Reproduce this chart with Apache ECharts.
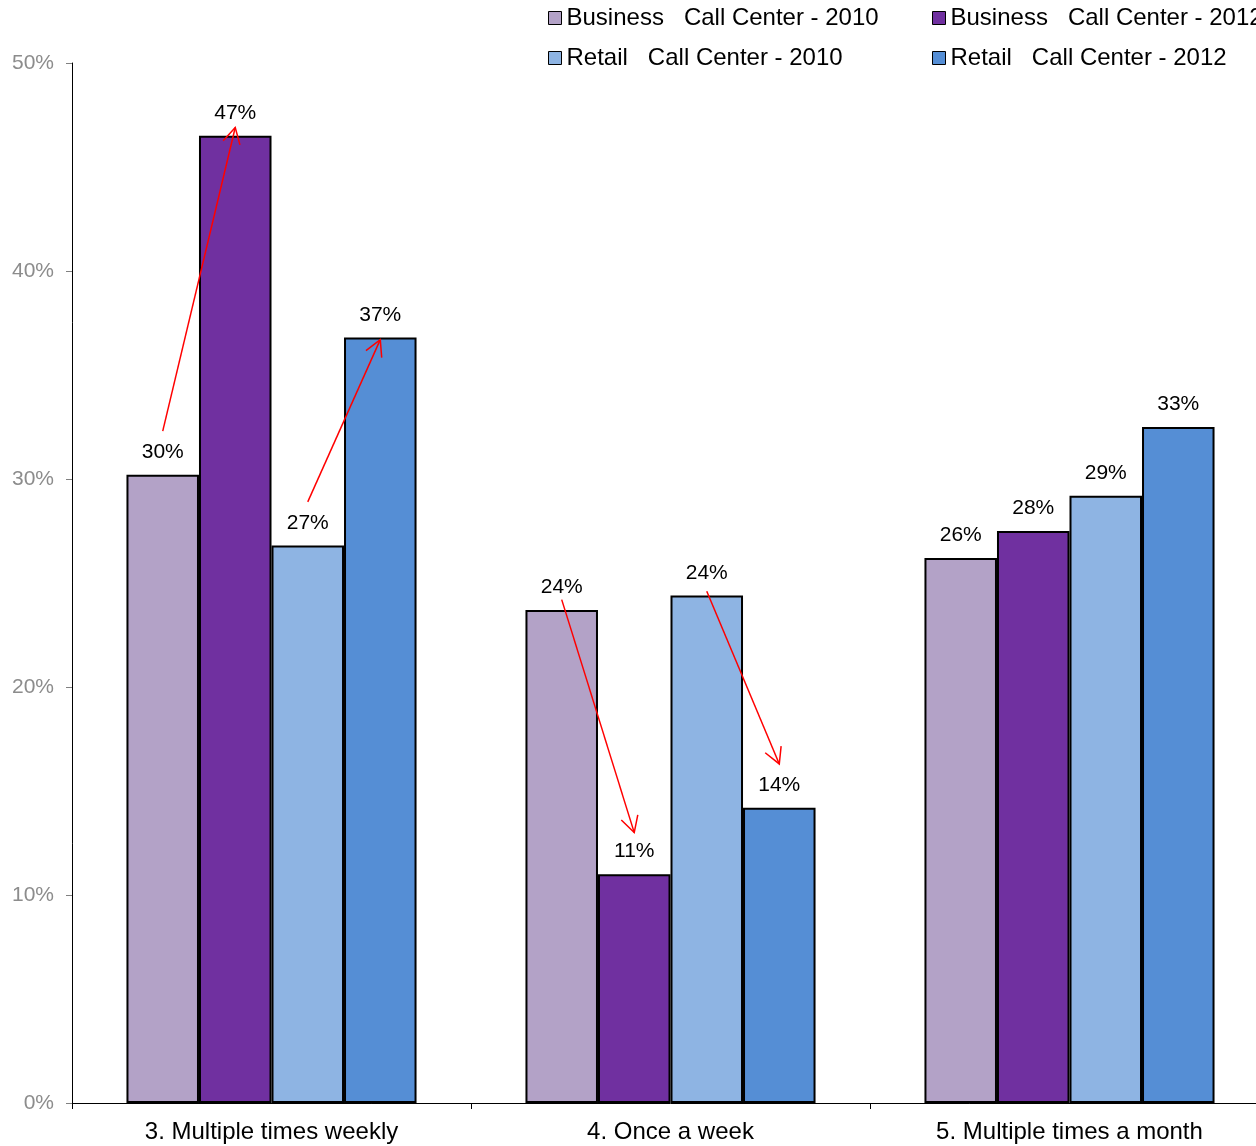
<!DOCTYPE html>
<html>
<head>
<meta charset="utf-8">
<script src="https://cdn.jsdelivr.net/npm/echarts@6/dist/echarts.min.js"></script>
<style>
  html, body { margin: 0; padding: 0; background: #fff; overflow: hidden; }
  /* a little wider than the window: the plot runs past the right edge, as in the reference */
  #chart { width: 1269px; height: 1146px; }
</style>
</head>
<body>
<div id="chart"></div>
<script>
  // categories and values (percent)
  var categories = ['3. Multiple times weekly', '4. Once a week', '5. Multiple times a month'];
  var seriesNames = [
    'Business   Call Center - 2010',
    'Business   Call Center - 2012',
    'Retail   Call Center - 2010',
    'Retail   Call Center - 2012'
  ];
  var business2010 = [30.2, 23.7, 26.2];
  var business2012 = [46.5, 11.0, 27.5];
  var retail2010 = [26.8, 24.4, 29.2];
  var retail2012 = [36.8, 14.2, 32.5];
  var yTicks = [0, 10, 20, 30, 40, 50];
  // arrows: [category, from bar, from value, to bar, to value]
  var arrows = [
    [0, 0, 32.3, 1, 46.9],
    [0, 2, 28.9, 3, 36.7],
    [1, 0, 24.2, 1, 13.0],
    [1, 2, 24.6, 3, 16.3]
  ];

  var colors = ['#B3A2C7', '#7030A0', '#8EB4E3', '#558ED5'];
  var values = [business2010, business2012, retail2010, retail2012];
  var catGap = 0.273;

  var chart = echarts.init(document.getElementById('chart'));

  var series = values.map(function (v, i) {
    return {
      name: seriesNames[i],
      type: 'bar',
      data: v,
      barGap: 0,
      barCategoryGap: (catGap * 100) + '%',
      itemStyle: { color: colors[i], borderColor: '#000', borderWidth: 2 },
      label: {
        show: true,
        position: 'top',
        distance: 12,
        fontSize: 21,
        color: '#000',
        fontFamily: 'Liberation Sans',
        formatter: function (p) { return Math.round(p.value) + '%'; }
      }
    };
  });

  // red arrows between bars
  series.push({
    type: 'custom',
    coordinateSystem: 'cartesian2d',
    data: arrows,
    encode: { x: 0, y: 2 },
    z: 10,
    clip: false,
    silent: true,
    renderItem: function (params, api) {
      var cat = api.value(0);
      var band = api.size([1, 0])[0];
      var barW = band * (1 - catGap) / 4;
      var center = api.coord([cat, 0])[0];
      var x1 = center + (api.value(1) - 1.5) * barW;
      var y1 = api.coord([cat, api.value(2)])[1];
      var x2 = center + (api.value(3) - 1.5) * barW;
      var y2 = api.coord([cat, api.value(4)])[1];
      var ang = Math.atan2(y2 - y1, x2 - x1);
      var len = 18, spread = 0.5;
      var style = { stroke: '#FF0000', lineWidth: 1.5, fill: null };
      return {
        type: 'group',
        children: [
          { type: 'line', shape: { x1: x1, y1: y1, x2: x2, y2: y2 }, style: style },
          { type: 'polyline', shape: { points: [
            [x2 - len * Math.cos(ang - spread), y2 - len * Math.sin(ang - spread)],
            [x2, y2],
            [x2 - len * Math.cos(ang + spread), y2 - len * Math.sin(ang + spread)]
          ] }, style: style }
        ]
      };
    }
  });

  var legendText = { fontSize: 24, color: '#000', fontFamily: 'Liberation Sans' };

  var option = {
    animation: false,
    textStyle: { fontFamily: 'Liberation Sans' },
    grid: { left: 72, right: 0, top: 63, bottom: 43, outerBoundsMode: 'none' },
    legend: [{
      orient: 'vertical',
      left: 548,
      top: 6,
      padding: 0,
      itemGap: 16,
      itemWidth: 13,
      itemHeight: 13,
      icon: 'rect',
      itemStyle: { borderWidth: 1 },
      textStyle: legendText,
      data: [seriesNames[0], seriesNames[2]]
    }, {
      orient: 'vertical',
      left: 932,
      top: 6,
      padding: 0,
      itemGap: 16,
      itemWidth: 13,
      itemHeight: 13,
      icon: 'rect',
      itemStyle: { borderWidth: 1 },
      textStyle: legendText,
      data: [seriesNames[1], seriesNames[3]]
    }],
    xAxis: {
      type: 'category',
      data: categories,
      axisLine: { lineStyle: { color: '#000', width: 1 } },
      axisTick: { show: true, alignWithLabel: false, length: 6, lineStyle: { color: '#000' } },
      axisLabel: { fontSize: 24, color: '#000', margin: 17, fontFamily: 'Liberation Sans' }
    },
    yAxis: {
      type: 'value',
      min: yTicks[0],
      max: yTicks[yTicks.length - 1],
      interval: 10,
      axisLine: { show: true, lineStyle: { color: '#000', width: 1 } },
      axisTick: { show: true, length: 6, lineStyle: { color: '#808080' } },
      splitLine: { show: false },
      axisLabel: { fontSize: 21, color: '#8c8c8c', margin: 18, formatter: '{value}%', fontFamily: 'Liberation Sans' }
    },
    series: series
  };

  chart.setOption(option);
</script>
</body>
</html>
